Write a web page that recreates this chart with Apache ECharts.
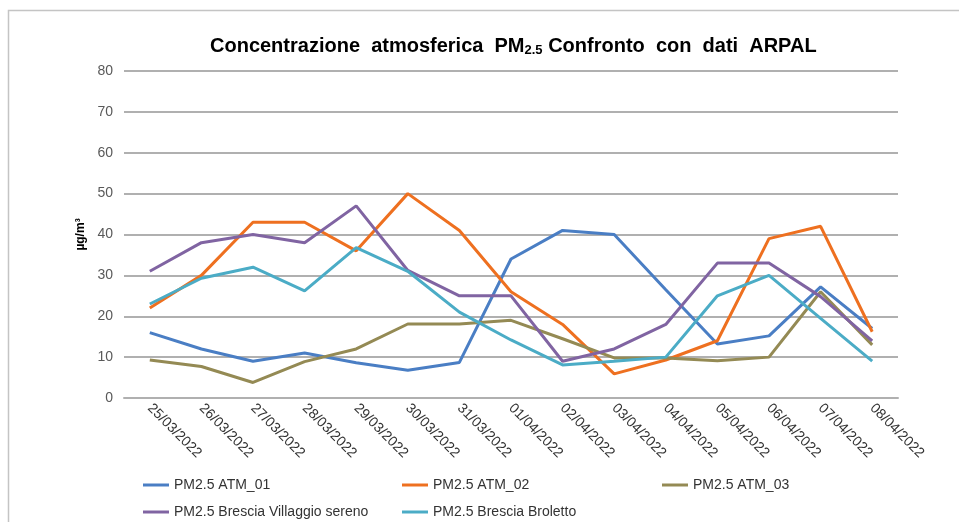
<!DOCTYPE html>
<html>
<head>
<meta charset="utf-8">
<script src="https://cdn.jsdelivr.net/npm/echarts@6/dist/echarts.min.js"></script>
<style>
  html, body { margin: 0; padding: 0; background: #fff; }
  #chart { width: 959px; height: 522px; }
</style>
</head>
<body>
<div id="chart"></div>
<script>
// date del confronto
let giorni = ['25/03/2022', '26/03/2022', '27/03/2022', '28/03/2022', '29/03/2022',
    '30/03/2022', '31/03/2022', '01/04/2022', '02/04/2022', '03/04/2022',
    '04/04/2022', '05/04/2022', '06/04/2022', '07/04/2022', '08/04/2022'];

// valori PM2.5 (µg/m³)
let atm01 = [16, 12, 9, 11, 8.6, 6.8, 8.7, 34, 41, 40, 26.5, 13.2, 15.2, 27.2, 17];
let atm02 = [22, 30, 43, 43, 36, 50, 41, 26, 18, 5.9, 9.3, 14, 39, 42, 16.2];
let atm03 = [9.3, 7.7, 3.8, 8.9, 12, 18.1, 18.1, 19, 14.5, 9.8, 9.8, 9.1, 10, 26, 13];
let villaggio = [31, 38, 40, 38, 47, 31.2, 25, 25, 9, 12, 18, 33, 33, 24.8, 14];
let broletto = [23, 29.3, 32, 26.2, 36.8, 31, 21, 14.2, 8.1, 9, 10, 25, 30, 19.5, 9];

let yTicks = [0, 10, 20, 30, 40, 50, 60, 70, 80];

let myChart = echarts.init(document.getElementById('chart'));

function serie(nome, dati, colore) {
    return {
        name: nome,
        type: 'line',
        data: dati,
        symbol: 'none',
        color: colore,
        lineStyle: { width: 3, color: colore }
    };
}

let legendaBase = {
    orient: 'vertical',
    top: 477,
    padding: 0,
    itemWidth: 26,
    itemHeight: 3,
    itemGap: 11,
    icon: 'rect',
    textStyle: { fontFamily: 'Liberation Sans', fontSize: 14, color: '#333', lineHeight: 16 }
};

let option = {
    animation: false,
    backgroundColor: '#fff',
    graphic: [{
        type: 'rect',
        shape: { x: 8.5, y: 10.5, width: 1000, height: 600 },
        style: { fill: 'none', stroke: '#c4c4c4', lineWidth: 1.5 }
    }],
    title: {
        text: 'Concentrazione  atmosferica  PM{s|2.5} Confronto  con  dati  ARPAL',
        left: 205,
        top: 31,
        textStyle: {
            fontFamily: 'Liberation Sans',
            fontSize: 20,
            fontWeight: 'bold',
            color: '#000',
            rich: {
                s: { fontFamily: 'Liberation Sans', fontSize: 13, fontWeight: 'bold', color: '#000', verticalAlign: 'bottom', padding: [8, 0, 0, 0] }
            }
        }
    },
    legend: [
        Object.assign({}, legendaBase, { left: 143, data: ['PM2.5 ATM_01', 'PM2.5 Brescia Villaggio sereno'] }),
        Object.assign({}, legendaBase, { left: 402, data: ['PM2.5 ATM_02', 'PM2.5 Brescia Broletto'] }),
        Object.assign({}, legendaBase, { left: 662, data: ['PM2.5 ATM_03'] })
    ],
    grid: { left: 124, right: 61, top: 71, bottom: 124 },
    xAxis: {
        type: 'category',
        data: giorni,
        boundaryGap: true,
        axisTick: { show: false },
        axisLine: { lineStyle: { color: '#b0b0b0', width: 2 } },
        axisLabel: {
            rotate: -45,
            margin: 8,
            interval: 0,
            fontFamily: 'Liberation Sans',
            fontSize: 14,
            color: '#333'
        }
    },
    yAxis: {
        type: 'value',
        min: yTicks[0],
        max: yTicks[yTicks.length - 1],
        interval: 10,
        name: 'µg/m³',
        nameLocation: 'middle',
        nameGap: 37,
        nameTextStyle: { fontFamily: 'Liberation Sans', fontSize: 12, fontWeight: 'bold', color: '#000' },
        axisLine: { show: false },
        axisTick: { show: false },
        axisLabel: { margin: 11, fontFamily: 'Liberation Sans', fontSize: 14, color: '#595959' },
        splitLine: { lineStyle: { color: '#b0b0b0', width: 2 } }
    },
    series: [
        serie('PM2.5 ATM_01', atm01, '#4a7ec4'),
        serie('PM2.5 ATM_02', atm02, '#ee7020'),
        serie('PM2.5 ATM_03', atm03, '#948a54'),
        serie('PM2.5 Brescia Villaggio sereno', villaggio, '#8064a2'),
        serie('PM2.5 Brescia Broletto', broletto, '#4bacc6')
    ]
};

myChart.setOption(option);
</script>
</body>
</html>
